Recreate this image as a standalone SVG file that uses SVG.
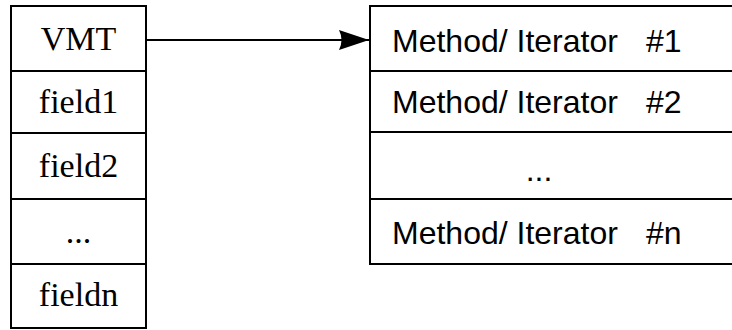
<svg xmlns="http://www.w3.org/2000/svg" width="732" height="330" viewBox="0 0 732 330">
<style>
.box{fill:#fff;stroke:#000;stroke-width:2}
.div{stroke:#000;stroke-width:2}
.serif{font-family:"Liberation Serif","Times New Roman",serif;font-size:34px;fill:#000;text-anchor:middle}
.sans{font-family:"Liberation Sans",Arial,sans-serif;font-size:32px;fill:#000}
.conn{stroke:#000;stroke-width:2;fill:none}
</style>
<defs>
<marker id="ah" viewBox="0 0 30 20" refX="30" refY="10" markerWidth="30" markerHeight="20" markerUnits="userSpaceOnUse" orient="auto">
<path d="M30,10 L0,0 Q5,10 0,20 Z" fill="#000"/>
</marker>
</defs>
<g id="object">
<rect class="box" x="11" y="6" width="135" height="322"/>
<line class="div" x1="11" y1="71" x2="146" y2="71"/>
<line class="div" x1="11" y1="133" x2="146" y2="133"/>
<line class="div" x1="11" y1="199" x2="146" y2="199"/>
<line class="div" x1="11" y1="264" x2="146" y2="264"/>
<text class="serif" x="78.5" y="50">VMT</text>
<text class="serif" x="78.5" y="113">field1</text>
<text class="serif" x="78.5" y="177">field2</text>
<text class="serif" x="78.5" y="243">...</text>
<text class="serif" x="78.5" y="306">fieldn</text>
</g>
<g id="vmt">
<rect class="box" x="370" y="6" width="380" height="258"/>
<line class="div" x1="370" y1="71" x2="750" y2="71"/>
<line class="div" x1="370" y1="132" x2="750" y2="132"/>
<line class="div" x1="370" y1="199" x2="750" y2="199"/>
<text class="sans" x="392" y="52" xml:space="preserve">Method/ Iterator  <tspan x="646">#1</tspan></text>
<text class="sans" x="392" y="113" xml:space="preserve">Method/ Iterator  <tspan x="646">#2</tspan></text>
<text class="sans" x="539" y="181" text-anchor="middle">...</text>
<text class="sans" x="392" y="244" xml:space="preserve">Method/ Iterator  <tspan x="646">#n</tspan></text>
</g>
<g id="connectors">
<line class="conn" x1="146" y1="40" x2="369" y2="40" marker-end="url(#ah)"/>
</g>
</svg>
